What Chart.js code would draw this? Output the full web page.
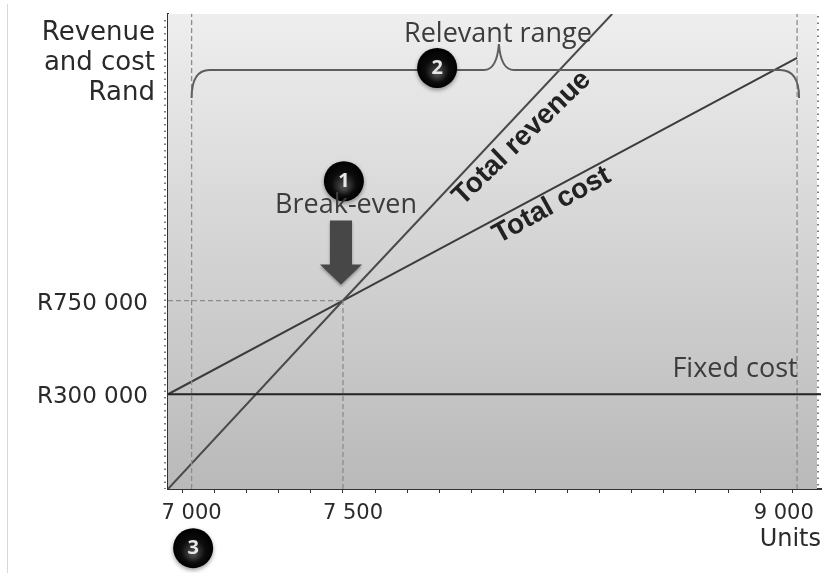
<!DOCTYPE html>
<html>
<head>
<meta charset="utf-8">
<title>Break-even chart</title>
<script src="https://cdn.jsdelivr.net/npm/chart.js@4/dist/chart.umd.min.js"></script>
<style>
  html, body { margin: 0; padding: 0; background: #fff; overflow: hidden; }
  #wrap { position: relative; width: 825px; height: 573px; }
  #edge { position: absolute; left: 7px; top: 4px; bottom: 0; width: 1px; background: #d8d8d8; }
  canvas { position: absolute; left: 0; top: 0; filter: blur(0.35px); }
</style>
</head>
<body>
<div id="wrap">
  <div id="edge"></div>
  <canvas id="chart" width="825" height="573"></canvas>
</div>
<script>
// Values
const unitsTotalRevenue = [6922, 7500, 8389];
const randTotalRevenue = [-155000, 750000, 2126000];
const unitsTotalCost = [6922, 7500, 9000];
const randTotalCost = [300000, 750000, 1915000];
const unitsFixedCost = [6922, 9079];
const randFixedCost = [300000, 300000];

const xMin = 6922;
const xMax = 9079;
const yMin = -155000;
const yMax = 2126000;

// Guide lines
const relevantLow = 7000;
const breakEvenUnits = 7500;
const relevantHigh = 9000;
const breakEvenRand = 750000;

// Axis ticks
const yTickValues = [300000, 750000];
const yTickLabels = ['R300 000', 'R750 000'];
const xTickValues = [7000, 7500, 9000];
const xTickLabels = ['7 000', '7 500', '9 000'];
const xMinorTicks = [6970, 7076, 7182, 7288, 7394, 7606, 7712, 7818, 7924, 8030, 8136, 8242, 8348, 8454, 8560, 8666, 8772, 8878, 8984];

// Text on the chart: label, x value, y value, angle
const notes = [
  ['Break-even', 7510, 1207000, 0],
  ['Relevant range', 8012, 2030000, 0],
  ['Fixed cost', 8795, 418000, 0]
];
const lineNotes = [
  ['Total revenue', 8091, 1530000, -44],
  ['Total cost', 8190, 1207000, -29]
];
// Numbered markers: label, x value, y value
const markers = [
  ['1', 7503, 1323000],
  ['2', 7811, 1867000],
  ['3', 7005, -439000]
];
const yTitleLines = ['Revenue', 'and cost', 'Rand'];

function toPoints(xs, ys) {
  return xs.map((x, i) => ({ x: x, y: ys[i] }));
}

function lineSet(label, xs, ys, color, width) {
  return {
    label: label,
    data: toPoints(xs, ys),
    showLine: true,
    borderColor: color,
    borderWidth: width,
    pointRadius: 0,
    tension: 0
  };
}

function dashSet(label, xs, ys) {
  const set = lineSet(label, xs, ys, '#8c8c8c', 1.3);
  set.borderDash = [5, 3];
  return set;
}

// The 7 500 and 9 000 labels sit off centre from their ticks in the picture
function padTickLabel(value, label) {
  const nbsp = '\u00a0';
  if (value === 7500) return nbsp.repeat(3) + label;
  if (value === 9000) return label + nbsp.repeat(4);
  return label;
}

// Plot background with the grey gradient and the dotted edges
const backgroundPlugin = {
  id: 'background',
  beforeDatasetsDraw(chart) {
    const { ctx, chartArea: a } = chart;
    const g = ctx.createLinearGradient(0, a.top, 0, a.bottom);
    g.addColorStop(0, '#eeeeee');
    g.addColorStop(1, '#b9b9b9');
    ctx.save();
    ctx.fillStyle = g;
    ctx.fillRect(a.left, a.top, a.right - a.left - 4, a.bottom - a.top);
    ctx.strokeStyle = '#555';
    ctx.lineWidth = 1.5;
    ctx.setLineDash([1.5, 5]);
    ctx.beginPath();
    ctx.moveTo(a.left - 3, a.top + 6);
    ctx.lineTo(a.left - 3, a.bottom);
    ctx.moveTo(a.right - 3, a.top + 2);
    ctx.lineTo(a.right - 3, a.bottom - 2);
    ctx.stroke();
    ctx.restore();
  }
};

function drawBrace(chart) {
  const { ctx, scales } = chart;
  const left = scales.x.getPixelForValue(relevantLow);
  const right = scales.x.getPixelForValue(relevantHigh) + 2;
  const mid = scales.x.getPixelForValue(8015);
  const y = 70;
  ctx.save();
  ctx.strokeStyle = '#5e5e5e';
  ctx.lineWidth = 2;
  ctx.beginPath();
  ctx.moveTo(left, y + 28);
  ctx.quadraticCurveTo(left, y, left + 18, y);
  ctx.lineTo(mid - 15, y);
  ctx.quadraticCurveTo(mid - 2, y, mid, y - 26);
  ctx.quadraticCurveTo(mid + 2, y, mid + 15, y);
  ctx.lineTo(right - 19, y);
  ctx.quadraticCurveTo(right, y, right, y + 28);
  ctx.stroke();
  ctx.restore();
}

function drawArrow(chart) {
  const { ctx, scales } = chart;
  const cx = scales.x.getPixelForValue(breakEvenUnits) - 2;
  const tip = scales.y.getPixelForValue(breakEvenRand) - 16;
  ctx.save();
  ctx.fillStyle = '#474747';
  ctx.strokeStyle = '#333';
  ctx.shadowColor = 'rgba(0,0,0,0.35)';
  ctx.shadowBlur = 3;
  ctx.shadowOffsetY = 2;
  ctx.beginPath();
  ctx.moveTo(cx - 11, tip - 64);
  ctx.lineTo(cx + 11, tip - 64);
  ctx.lineTo(cx + 11, tip - 20);
  ctx.lineTo(cx + 21, tip - 20);
  ctx.lineTo(cx, tip);
  ctx.lineTo(cx - 21, tip - 20);
  ctx.lineTo(cx - 11, tip - 20);
  ctx.closePath();
  ctx.fill();
  ctx.restore();
}

function drawMarker(chart, m) {
  const { ctx, scales } = chart;
  const x = scales.x.getPixelForValue(m[1]);
  const y = scales.y.getPixelForValue(m[2]);
  const g = ctx.createRadialGradient(x, y + 6, 2, x, y, 20);
  g.addColorStop(0, '#4a4a4a');
  g.addColorStop(0.55, '#0c0c0c');
  g.addColorStop(1, '#000');
  ctx.save();
  ctx.shadowColor = 'rgba(0,0,0,0.4)';
  ctx.shadowBlur = 4;
  ctx.shadowOffsetY = 2;
  ctx.fillStyle = g;
  ctx.beginPath();
  ctx.arc(x, y, 20, 0, Math.PI * 2);
  ctx.fill();
  ctx.shadowColor = 'transparent';
  ctx.fillStyle = '#e8e8e8';
  ctx.font = 'bold 20px "Open Sans"';
  ctx.textAlign = 'center';
  ctx.textBaseline = 'middle';
  ctx.fillText(m[0], x, y);
  ctx.restore();
}

function drawNote(chart, n, font, color) {
  const { ctx, scales } = chart;
  ctx.save();
  ctx.translate(scales.x.getPixelForValue(n[1]), scales.y.getPixelForValue(n[2]));
  ctx.rotate(n[3] * Math.PI / 180);
  ctx.font = font;
  ctx.fillStyle = color;
  ctx.textAlign = 'center';
  ctx.textBaseline = 'middle';
  ctx.fillText(n[0], 0, 0);
  ctx.restore();
}

const annotationPlugin = {
  id: 'annotation',
  afterDatasetsDraw(chart) {
    const { ctx, chartArea: a } = chart;
    drawBrace(chart);
    drawArrow(chart);
    markers.forEach(m => drawMarker(chart, m));
    notes.forEach(n => drawNote(chart, n, '27px "Open Sans"', '#3c3c3c'));
    lineNotes.forEach(n => drawNote(chart, n, 'bold 28px "Liberation Sans"', '#222'));

    ctx.save();
    ctx.font = '26px "DejaVu Sans"';
    ctx.fillStyle = '#2a2a2a';
    ctx.textAlign = 'right';
    ctx.textBaseline = 'middle';
    yTitleLines.forEach((line, i) => ctx.fillText(line, a.left - 13, 33 + i * 30));
    ctx.restore();
  }
};

new Chart(document.getElementById('chart').getContext('2d'), {
  type: 'scatter',
  data: {
    datasets: [
      dashSet('Low', [relevantLow, relevantLow], [yMin, yMax]),
      dashSet('High', [relevantHigh, relevantHigh], [yMin, yMax]),
      dashSet('Break-even units', [breakEvenUnits, breakEvenUnits], [yMin, breakEvenRand]),
      dashSet('Break-even rand', [xMin, breakEvenUnits], [breakEvenRand, breakEvenRand]),
      lineSet('Fixed cost', unitsFixedCost, randFixedCost, '#222', 2),
      lineSet('Total revenue', unitsTotalRevenue, randTotalRevenue, '#4a4a4a', 2),
      lineSet('Total cost', unitsTotalCost, randTotalCost, '#3c3c3c', 2)
    ]
  },
  options: {
    responsive: false,
    animation: false,
    devicePixelRatio: 1,
    layout: { padding: { top: 14, right: 4, bottom: 0, left: 0 } },
    plugins: { legend: { display: false }, tooltip: { enabled: false } },
    scales: {
      x: {
        type: 'linear',
        min: xMin,
        max: xMax,
        border: { color: '#333', width: 2 },
        grid: {
          drawOnChartArea: false,
          tickLength: 4,
          tickColor: ctx => (xMinorTicks.includes(ctx.tick.value) || ctx.tick.value === breakEvenUnits) ? '#333' : 'transparent'
        },
        afterBuildTicks: scale => {
          scale.ticks = xTickValues.concat(xMinorTicks).sort((a, b) => a - b).map(v => ({ value: v }));
        },
        // keep the plot box fixed, the 9 000 label must not push it in
        afterFit: scale => {
          scale.height = 84;
          scale.paddingLeft = 0;
          scale.paddingRight = 0;
        },
        ticks: {
          autoSkip: false,
          maxRotation: 0,
          minRotation: 0,
          padding: 8,
          color: '#2a2a2a',
          font: { family: 'DejaVu Sans', size: 21 },
          callback: value => {
            const i = xTickValues.indexOf(value);
            return i >= 0 ? padTickLabel(value, xTickLabels[i]) : '';
          }
        },
        title: {
          display: true,
          text: 'Units',
          align: 'end',
          color: '#2a2a2a',
          font: { family: 'DejaVu Sans', size: 24 },
          padding: { top: 0, bottom: 19 }
        }
      },
      y: {
        type: 'linear',
        min: yMin,
        max: yMax,
        border: { color: '#333', width: 2 },
        grid: { drawOnChartArea: false, drawTicks: false },
        afterBuildTicks: scale => {
          scale.ticks = yTickValues.map(v => ({ value: v }));
        },
        afterFit: scale => {
          scale.width = 168;
          scale.paddingTop = 0;
          scale.paddingBottom = 0;
        },
        ticks: {
          padding: 20,
          labelOffset: 3,
          color: '#2a2a2a',
          font: { family: 'DejaVu Sans', size: 23 },
          callback: value => yTickLabels[yTickValues.indexOf(value)]
        }
      }
    }
  },
  plugins: [backgroundPlugin, annotationPlugin]
});
</script>
</body>
</html>
